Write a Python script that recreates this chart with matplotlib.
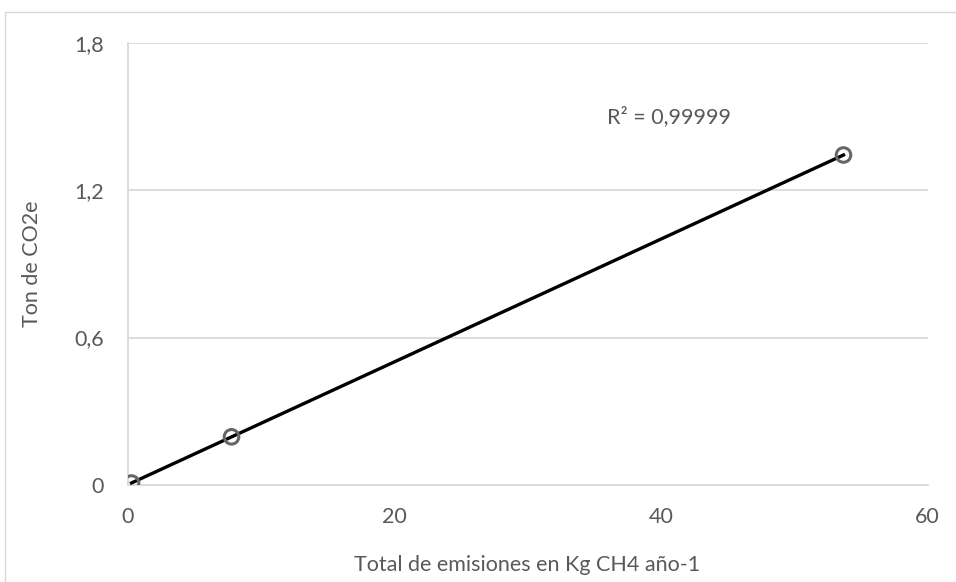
import matplotlib.pyplot as plt
import numpy as np
from matplotlib.patches import Rectangle

# datos
emisiones_kg = [0.3, 7.8, 53.7]
ton_co2e = [0.008, 0.196, 1.343]
x_ticks = [0, 20, 40, 60]
y_ticks = [0, 0.6, 1.2, 1.8]
y_tick_labels = ["0", "0,6", "1,2", "1,8"]
r2_text = "R² = 0,99999"

texto = "#595959"
grid = "#d9d9d9"
fs = 15.5

plt.rcParams['font.family'] = ['Lato', 'DejaVu Sans']

fig = plt.figure(figsize=(9.56, 5.82), dpi=100)
ax = fig.add_axes([0.1334, 0.1667, 0.8368, 0.7599])

# borde del area del grafico
fig.patches.append(Rectangle((5 / 956, -0.1), 2, 1 - 12 / 582 + 0.1,
                             transform=fig.transFigure, fill=False,
                             edgecolor=grid, linewidth=1))

# linea de tendencia lineal
x = np.array(emisiones_kg)
y = np.array(ton_co2e)
m, b = np.polyfit(x, y, 1)
xs = np.array([x.min(), x.max()])
ax.plot(xs, m * xs + b, color="black", linewidth=2.4, zorder=3)

ax.scatter(x, y, s=110, facecolors="none", edgecolors="#666666",
           linewidths=2.2, zorder=4)

ax.set_xlim(0, 60)
ax.set_ylim(0, 1.8)
ax.set_xticks(x_ticks)
ax.set_yticks(y_ticks)
ax.set_yticklabels(y_tick_labels)
ax.grid(axis="y", color=grid, linewidth=1.3)
ax.set_axisbelow(True)
for s in ["top", "right"]:
    ax.spines[s].set_visible(False)
ax.spines["bottom"].set_color(grid)
ax.spines["bottom"].set_linewidth(1.3)
ax.spines["left"].set_color(grid)
ax.spines["left"].set_linewidth(1.3)
ax.tick_params(axis="x", length=0, pad=16, labelsize=fs, labelcolor=texto)
ax.tick_params(axis="y", length=0, pad=17, labelsize=fs, labelcolor=texto)

ax.set_xlabel("Total de emisiones en Kg CH4 año-1", fontsize=fs, color=texto,
              va="center")
ax.xaxis.set_label_coords(0.5, -0.181)
ax.set_ylabel("Ton de CO2e", fontsize=fs, color=texto, va="center")
ax.yaxis.set_label_coords(-0.119, 0.5)

ax.text(0.599, 0.832, r2_text, transform=ax.transAxes, fontsize=fs,
        color=texto, va="center", ha="left")

fig.savefig("out.png", dpi=100)
